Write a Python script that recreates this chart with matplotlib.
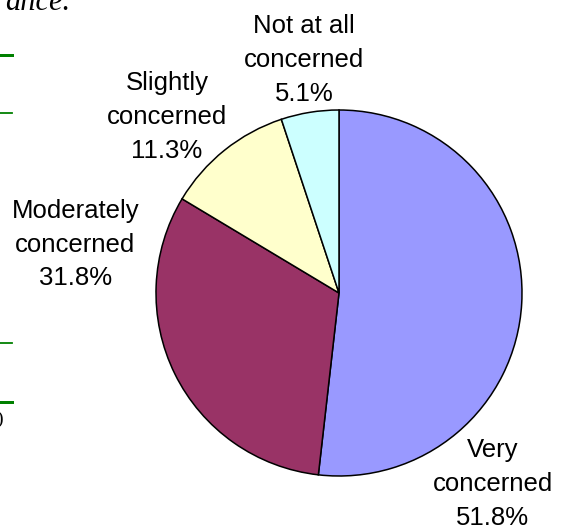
"""
PIE CHART - LEVEL OF CONCERN
"""
import matplotlib
matplotlib.use("Agg")
from matplotlib import pyplot as plt

#---DATOS
categorias = ["Very\nconcerned", "Moderately\nconcerned", "Slightly\nconcerned", "Not at all\nconcerned"]
porcentajes = [51.8, 31.8, 11.3, 5.1]
colores = ["#9999FF", "#993366", "#FFFFCC", "#CCFFFF"]

#posicion de las etiquetas (coordenadas del eje, radio = 1)
pos_etiquetas = [(0.84, -1.045), (-1.44, 0.265), (-0.94, 0.96), (-0.19, 1.275)]

W, H = 568, 529
fig = plt.figure(figsize=(W / 100, H / 100), dpi=100)

#---EJE DEL PASTEL (centro 339,293  radio 183 px)
cx, cy, r = 339, 293, 183
ax = fig.add_axes([(cx - r) / W, (H - cy - r) / H, 2 * r / W, 2 * r / H])
ax.pie(porcentajes, colors=colores, startangle=90, counterclock=False,
       radius=1, wedgeprops=dict(edgecolor="black", linewidth=1.1))
ax.set_xlim(-1, 1)
ax.set_ylim(-1, 1)
ax.set_aspect("equal")
ax.axis("off")

for cat, val, (px, py) in zip(categorias, porcentajes, pos_etiquetas):
    ax.text(px, py, cat + "\n" + "%.1f%%" % val, ha="center", va="center",
            family="Liberation Sans", fontsize=18.5, linespacing=1.52,
            clip_on=False)

#---RESTOS DEL DOCUMENTO (lado izquierdo)
fig.text(70 / W, 1 - 10 / H, "ance.", ha="right", va="baseline",
         family="Liberation Serif", style="italic", fontsize=22)
for y, lw in [(55, 3), (113, 1.8), (343, 1.8), (402, 3)]:
    fig.add_artist(plt.Line2D([0, 12 / W], [1 - y / H, 1 - y / H],
                              color="#008000", linewidth=lw * 0.72))
fig.text(-4 / W, 1 - 424 / H, ")", ha="left", va="baseline",
         family="Liberation Serif", fontsize=14)

fig.savefig("out.png", dpi=100)
